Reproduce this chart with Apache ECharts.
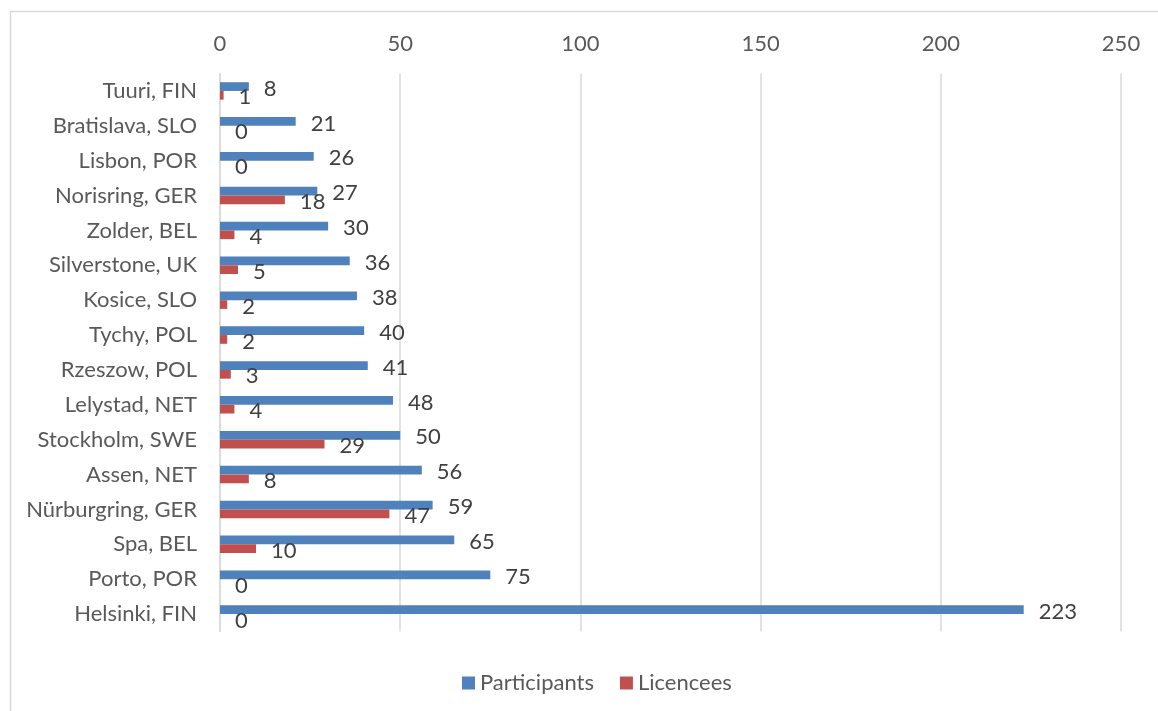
<!DOCTYPE html>
<html>
<head>
<meta charset="utf-8">
<style>
  html, body { margin: 0; padding: 0; background: #fff; }
  #chart { width: 1158px; height: 711px; }
</style>
<script src="https://cdn.jsdelivr.net/npm/echarts@6/dist/echarts.min.js"></script>
</head>
<body>
<div id="chart"></div>
<script>
// Event venues, listed top to bottom
const venues = [
  'Tuuri, FIN', 'Bratislava, SLO', 'Lisbon, POR', 'Norisring, GER', 'Zolder, BEL',
  'Silverstone, UK', 'Kosice, SLO', 'Tychy, POL', 'Rzeszow, POL', 'Lelystad, NET',
  'Stockholm, SWE', 'Assen, NET', 'Nürburgring, GER', 'Spa, BEL', 'Porto, POR', 'Helsinki, FIN'
];
const participants = [8, 21, 26, 27, 30, 36, 38, 40, 41, 48, 50, 56, 59, 65, 75, 223];
const licencees = [1, 0, 0, 18, 4, 5, 2, 2, 3, 4, 29, 8, 47, 10, 0, 0];
const seriesNames = ['Participants', 'Licencees'];

const FONT = 'Lato, "Open Sans", sans-serif';
const chart = echarts.init(document.getElementById('chart'), null, { renderer: 'canvas' });

const valueLabel = {
  show: true,
  position: 'right',
  distance: 15,
  offset: [0, 2],
  fontFamily: FONT,
  fontSize: 22,
  color: '#404040'
};

chart.setOption({
  backgroundColor: '#ffffff',
  animation: false,
  graphic: [{
    type: 'rect',
    shape: { x: 10.5, y: 11.5, width: 1300, height: 900 },
    style: { fill: 'none', stroke: '#d9d9d9', lineWidth: 1.5 },
    silent: true,
    z: -1
  }],
  grid: { left: 220, right: 37, top: 73.5, bottom: 79.5, containLabel: false },
  legend: {
    data: seriesNames,
    bottom: 12,
    left: 457,
    icon: 'rect',
    itemWidth: 13,
    itemHeight: 13,
    itemGap: 26,
    textStyle: { fontFamily: FONT, fontSize: 22, color: '#595959' }
  },
  xAxis: {
    type: 'value',
    position: 'top',
    min: 0,
    max: 250,
    interval: 50,
    axisLine: { show: false },
    axisTick: { show: false },
    axisLabel: { margin: 19, fontFamily: FONT, fontSize: 22, color: '#595959' },
    splitLine: { show: true, lineStyle: { color: '#d9d9d9', width: 1.5 } }
  },
  yAxis: {
    type: 'category',
    data: venues,
    inverse: true,
    axisLine: { show: true, lineStyle: { color: '#d9d9d9', width: 1.5 } },
    axisTick: { show: false },
    axisLabel: { margin: 23, fontFamily: FONT, fontSize: 22, color: '#595959' }
  },
  series: [
    {
      name: seriesNames[0],
      type: 'bar',
      data: participants,
      itemStyle: { color: '#4f81bd' },
      barGap: '0%',
      barCategoryGap: '50%',
      label: valueLabel
    },
    {
      name: seriesNames[1],
      type: 'bar',
      data: licencees,
      itemStyle: { color: '#c0504d' },
      barGap: '0%',
      barCategoryGap: '50%',
      label: valueLabel
    }
  ]
});
</script>
</body>
</html>
